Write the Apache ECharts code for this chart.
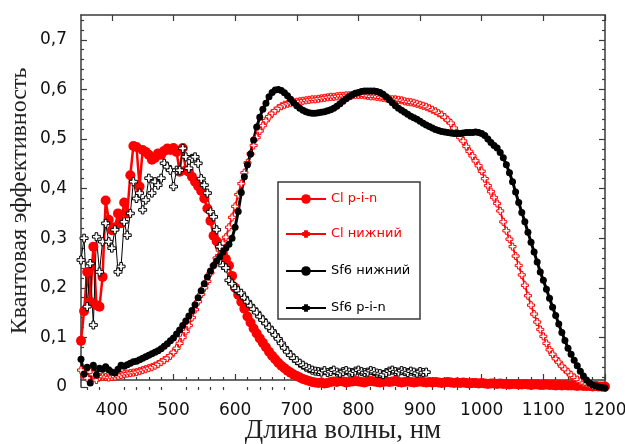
<!DOCTYPE html>
<html>
<head>
<meta charset="utf-8">
<script src="https://cdn.jsdelivr.net/npm/echarts@6/dist/echarts.min.js"></script>
<style>
  html, body { margin: 0; padding: 0; background: #fff; }
  #chart { width: 625px; height: 444px; }
</style>
</head>
<body>
<div id="chart"></div>
<script>
// Wavelength grid of the measurements, nm
const wavelengths = [
  350, 355, 360, 365, 370, 375, 380, 385, 390, 395,
  400, 405, 410, 415, 420, 425, 430, 435, 440, 445,
  450, 455, 460, 465, 470, 475, 480, 485, 490, 495,
  500, 505, 510, 515, 520, 525, 530, 535, 540, 545,
  550, 555, 560, 565, 570, 575, 580, 585, 590, 595,
  600, 605, 610, 615, 620, 625, 630, 635, 640, 645,
  650, 655, 660, 665, 670, 675, 680, 685, 690, 695,
  700, 705, 710, 715, 720, 725, 730, 735, 740, 745,
  750, 755, 760, 765, 770, 775, 780, 785, 790, 795,
  800, 805, 810, 815, 820, 825, 830, 835, 840, 845,
  850, 855, 860, 865, 870, 875, 880, 885, 890, 895,
  900, 905, 910, 915, 920, 925, 930, 935, 940, 945,
  950, 955, 960, 965, 970, 975, 980, 985, 990, 995,
  1000, 1005, 1010, 1015, 1020, 1025, 1030, 1035, 1040, 1045,
  1050, 1055, 1060, 1065, 1070, 1075, 1080, 1085, 1090, 1095,
  1100, 1105, 1110, 1115, 1120, 1125, 1130, 1135, 1140, 1145,
  1150, 1155, 1160, 1165, 1170, 1175, 1180, 1185, 1190, 1195,
  1200
];

// Quantum efficiency, Cl p-i-n structure
const clPin = [
  0.093, 0.153, 0.232, 0.172, 0.283, 0.165, 0.162, 0.222, 0.376, 0.337,
  0.316, 0.322, 0.350, 0.330, 0.372, 0.350, 0.427, 0.486, 0.484, 0.404,
  0.478, 0.474, 0.468, 0.458, 0.462, 0.471, 0.468, 0.476, 0.481, 0.478,
  0.482, 0.474, 0.434, 0.482, 0.437, 0.434, 0.424, 0.414, 0.405, 0.395,
  0.380, 0.360, 0.335, 0.305, 0.294, 0.284, 0.270, 0.258, 0.245, 0.224,
  0.200, 0.186, 0.172, 0.158, 0.142, 0.130, 0.118, 0.108, 0.098, 0.089,
  0.080, 0.071, 0.063, 0.056, 0.049, 0.043, 0.038, 0.033, 0.029, 0.025,
  0.022, 0.019, 0.016, 0.014, 0.012, 0.010, 0.009, 0.008, 0.009, 0.007,
  0.008, 0.010, 0.011, 0.010, 0.012, 0.011, 0.009, 0.010, 0.011, 0.012,
  0.011, 0.010, 0.009, 0.011, 0.012, 0.011, 0.010, 0.009, 0.010, 0.011,
  0.010, 0.011, 0.012, 0.010, 0.009, 0.010, 0.011, 0.010, 0.009, 0.010,
  0.011, 0.010, 0.009, 0.010, 0.009, 0.010, 0.009, 0.008, 0.009, 0.010,
  0.009, 0.008, 0.009, 0.008, 0.009, 0.008, 0.007, 0.008, 0.008, 0.007,
  0.008, 0.007, 0.006, 0.007, 0.007, 0.006, 0.007, 0.006, 0.006, 0.005,
  0.006, 0.006, 0.005, 0.005, 0.006, 0.005, 0.004, 0.005, 0.005, 0.004,
  0.004, 0.005, 0.004, 0.004, 0.003, 0.004, 0.003, 0.004, 0.003, 0.003,
  0.003, 0.002, 0.003, 0.002, 0.002, 0.002, 0.001, 0.002, 0.001, 0.001,
  0.001
];

// Quantum efficiency, Cl lower cell
const clLower = [
  0.034, 0.022, 0.018, 0.030, 0.025, 0.014, 0.020, 0.021, 0.020, 0.019,
  0.020, 0.021, 0.022, 0.024, 0.026, 0.027, 0.028, 0.029, 0.030, 0.032,
  0.034, 0.036, 0.038, 0.040, 0.043, 0.046, 0.050, 0.054, 0.058, 0.063,
  0.070, 0.078, 0.088, 0.100, 0.112, 0.124, 0.140, 0.156, 0.172, 0.187,
  0.200, 0.213, 0.230, 0.245, 0.260, 0.276, 0.290, 0.302, 0.322, 0.342,
  0.364, 0.388, 0.410, 0.432, 0.452, 0.470, 0.487, 0.503, 0.516, 0.527,
  0.537, 0.545, 0.552, 0.557, 0.562, 0.566, 0.569, 0.571, 0.573, 0.574,
  0.575, 0.576, 0.577, 0.578, 0.579, 0.580, 0.580, 0.581, 0.582, 0.583,
  0.584, 0.585, 0.585, 0.586, 0.587, 0.587, 0.588, 0.588, 0.588, 0.589,
  0.589, 0.589, 0.588, 0.587, 0.586, 0.586, 0.585, 0.584, 0.583, 0.582,
  0.581, 0.580, 0.580, 0.579, 0.578, 0.576, 0.575, 0.574, 0.573, 0.571,
  0.569, 0.567, 0.565, 0.562, 0.559, 0.556, 0.552, 0.549, 0.544, 0.538,
  0.532, 0.522, 0.512, 0.503, 0.496, 0.485, 0.475, 0.466, 0.456, 0.446,
  0.435, 0.420, 0.406, 0.394, 0.382, 0.370, 0.355, 0.333, 0.315, 0.298,
  0.283, 0.264, 0.245, 0.226, 0.205, 0.184, 0.165, 0.147, 0.131, 0.116,
  0.102, 0.088, 0.075, 0.066, 0.057, 0.050, 0.042, 0.036, 0.030, 0.024,
  0.019, 0.015, 0.011, 0.008, 0.006, 0.004, 0.002, 0.001, 0.000, -0.001,
  -0.002
];

// Quantum efficiency, Sf6 lower cell
const sf6Lower = [
  0.056, 0.026, 0.040, 0.008, 0.044, 0.024, 0.038, 0.036, 0.041, 0.035,
  0.030, 0.028, 0.036, 0.044, 0.042, 0.045, 0.048, 0.051, 0.052, 0.055,
  0.058, 0.061, 0.064, 0.067, 0.070, 0.073, 0.077, 0.082, 0.087, 0.093,
  0.099, 0.107, 0.115, 0.124, 0.133, 0.143, 0.154, 0.166, 0.180, 0.194,
  0.208, 0.222, 0.234, 0.245, 0.254, 0.262, 0.272, 0.280, 0.288, 0.300,
  0.322, 0.354, 0.392, 0.424, 0.448, 0.470, 0.498, 0.524, 0.544, 0.560,
  0.572, 0.585, 0.594, 0.599, 0.600, 0.598, 0.593, 0.587, 0.580, 0.573,
  0.567, 0.562, 0.558, 0.555, 0.553, 0.552, 0.552, 0.553, 0.554, 0.555,
  0.557, 0.559, 0.562, 0.566, 0.571, 0.576, 0.581, 0.585, 0.589, 0.592,
  0.594, 0.596, 0.597, 0.597, 0.597, 0.597, 0.596, 0.594, 0.590, 0.585,
  0.579, 0.573, 0.567, 0.562, 0.558, 0.554, 0.550, 0.546, 0.543, 0.540,
  0.536, 0.532, 0.528, 0.525, 0.522, 0.519, 0.517, 0.515, 0.514, 0.513,
  0.512, 0.511, 0.511, 0.511, 0.512, 0.513, 0.513, 0.513, 0.514, 0.513,
  0.511, 0.507, 0.500, 0.493, 0.487, 0.482, 0.473, 0.462, 0.448, 0.432,
  0.414, 0.393, 0.372, 0.352, 0.333, 0.312, 0.292, 0.272, 0.252, 0.232,
  0.215, 0.197, 0.179, 0.161, 0.144, 0.127, 0.110, 0.094, 0.078, 0.066,
  0.054, 0.043, 0.032, 0.022, 0.014, 0.008, 0.004, 0.002, 0.000, -0.001,
  -0.002
];

// Quantum efficiency, Sf6 p-i-n structure (measured up to 910 nm)
const sf6Pin = [
  0.256, 0.300, 0.162, 0.249, 0.125, 0.303, 0.232, 0.293, 0.330, 0.293,
  0.280, 0.317, 0.232, 0.243, 0.333, 0.306, 0.350, 0.414, 0.380, 0.391,
  0.357, 0.377, 0.421, 0.391, 0.414, 0.407, 0.421, 0.451, 0.444, 0.437,
  0.404, 0.437, 0.437, 0.481, 0.464, 0.441, 0.461, 0.464, 0.451, 0.420,
  0.407, 0.391, 0.353, 0.343, 0.317, 0.283, 0.245, 0.240, 0.215, 0.208,
  0.199, 0.194, 0.189, 0.180, 0.172, 0.164, 0.157, 0.150, 0.142, 0.135,
  0.128, 0.120, 0.113, 0.105, 0.097, 0.088, 0.079, 0.071, 0.064, 0.058,
  0.053, 0.048, 0.044, 0.040, 0.037, 0.034, 0.032, 0.031, 0.030, 0.033,
  0.029, 0.031, 0.034, 0.030, 0.028, 0.031, 0.033, 0.030, 0.029, 0.032,
  0.034, 0.031, 0.029, 0.030, 0.033, 0.031, 0.028, 0.027, 0.025, 0.029,
  0.032, 0.034, 0.031, 0.030, 0.033, 0.031, 0.029, 0.032, 0.030, 0.028,
  0.031, 0.029, 0.030
];

// Axis tick positions
const xMajorTicks = [400, 500, 600, 700, 800, 900, 1000, 1100, 1200];
const xMinorTicks = [
  360, 380, 420, 440, 460, 480, 520, 540, 560, 580,
  620, 640, 660, 680, 720, 740, 760, 780, 820, 840, 860, 880,
  920, 940, 960, 980, 1020, 1040, 1060, 1080, 1120, 1140, 1160, 1180
];
const yMajorTicks = [0, 0.1, 0.2, 0.3, 0.4, 0.5, 0.6, 0.7];
const yMinorTicks = [
  0.02, 0.04, 0.06, 0.08, 0.12, 0.14, 0.16, 0.18, 0.22, 0.24, 0.26, 0.28,
  0.32, 0.34, 0.36, 0.38, 0.42, 0.44, 0.46, 0.48, 0.52, 0.54, 0.56, 0.58,
  0.62, 0.64, 0.66, 0.68, 0.72, 0.74
];

const seriesNames = ['Cl p-i-n', 'Cl нижний', 'Sf6 нижний', 'Sf6 p-i-n'];

const RED = '#ff0000';
const BLACK = '#000000';
const AXIS = '#3a3a3a';
const PLUS = 'path://M3,0H6V3H9V6H6V9H3V6H0V3H3Z';

function pairs(values) {
  return values.map((v, i) => [wavelengths[i], v]);
}

const tickFont = { fontFamily: 'DejaVu Sans', fontSize: 17, color: '#111' };
const lineAxis = { show: true, onZero: false, lineStyle: { color: AXIS, width: 1.5 } };

function majorTickX(position, labelled) {
  return {
    type: 'value', gridIndex: 0, position: position, min: 350, max: 1200,
    offset: position === 'bottom' ? -7 : 0,
    axisLine: lineAxis,
    axisTick: { show: true, inside: true, length: 6, customValues: xMajorTicks,
                lineStyle: { color: AXIS, width: 1.2 } },
    axisLabel: labelled
      ? Object.assign({ show: true, customValues: xMajorTicks, margin: 22,
                        formatter: v => String(v) }, tickFont)
      : { show: false },
    splitLine: { show: false }
  };
}
function minorTickX(position) {
  return {
    type: 'value', gridIndex: 1, position: position, min: 350, max: 1200,
    offset: position === 'bottom' ? -7 : 0,
    axisLine: { show: false },
    axisTick: { show: true, inside: true, length: 3, customValues: xMinorTicks,
                lineStyle: { color: AXIS, width: 1.2 } },
    axisLabel: { show: false },
    splitLine: { show: false }
  };
}
function majorTickY(position, labelled) {
  return {
    type: 'value', gridIndex: 0, position: position, min: 0, max: 0.75,
    axisLine: lineAxis,
    axisTick: { show: true, inside: true, length: 6, customValues: yMajorTicks,
                lineStyle: { color: AXIS, width: 1.2 } },
    axisLabel: labelled
      ? Object.assign({
          show: true, customValues: yMajorTicks, margin: 14,
          formatter: v => (v === 0 ? '0' : String(v).replace('.', ','))
        }, tickFont)
      : { show: false },
    splitLine: { show: false }
  };
}
function minorTickY(position) {
  return {
    type: 'value', gridIndex: 1, position: position, min: 0, max: 0.75,
    axisLine: { show: false },
    axisTick: { show: true, inside: true, length: 3, customValues: yMinorTicks,
                lineStyle: { color: AXIS, width: 1.2 } },
    axisLabel: { show: false },
    splitLine: { show: false }
  };
}

const xBottom = majorTickX('bottom', true);
xBottom.name = 'Длина волны, нм';
xBottom.nameLocation = 'middle';
xBottom.nameGap = 37;
xBottom.nameMoveOverlap = false;
xBottom.nameTextStyle = { fontFamily: 'Liberation Serif', fontSize: 27, color: '#222' };

const yLeft = majorTickY('left', true);
yLeft.name = 'Квантовая эффективность';
yLeft.nameLocation = 'middle';
yLeft.nameRotate = 90;
yLeft.nameGap = 40;
yLeft.nameMoveOverlap = false;
yLeft.nameTextStyle = {
  fontFamily: 'Liberation Serif', fontSize: 24, color: '#222',
  backgroundColor: '#fff', padding: [0, 2, 9, 2]
};

const legendText = { fontFamily: 'DejaVu Sans', fontSize: 13 };
const gridBox = { left: 81, right: 20, top: 15, bottom: 57, containLabel: false, outerBoundsMode: 'none' };

const option = {
  animation: false,
  backgroundColor: '#fff',
  grid: [Object.assign({}, gridBox), Object.assign({}, gridBox)],
  xAxis: [xBottom, majorTickX('top', false), minorTickX('bottom'), minorTickX('top')],
  yAxis: [yLeft, majorTickY('right', false), minorTickY('left'), minorTickY('right')],
  legend: [
    {
      orient: 'vertical', left: 285, top: 192, padding: 0,
      itemWidth: 40, itemHeight: 12, itemGap: 58, selectedMode: false,
      textStyle: Object.assign({ lineHeight: 14 }, legendText),
      data: [
        { name: seriesNames[0], textStyle: { color: RED } },
        { name: seriesNames[2], textStyle: { color: BLACK } }
      ]
    },
    {
      orient: 'vertical', left: 285, top: 227, padding: 0,
      itemWidth: 40, itemHeight: 7, itemGap: 60, selectedMode: false,
      textStyle: Object.assign({ lineHeight: 14 }, legendText),
      data: [
        { name: seriesNames[1], textStyle: { color: RED } },
        { name: seriesNames[3], textStyle: { color: BLACK } }
      ]
    }
  ],
  graphic: [{
    type: 'rect', z: 3, silent: true,
    shape: { x: 278, y: 182, width: 142, height: 137 },
    style: { fill: '#fff', stroke: AXIS, lineWidth: 1.5 }
  }],
  series: [
    {
      name: seriesNames[0], type: 'line', xAxisIndex: 0, yAxisIndex: 0,
      data: pairs(clPin), clip: false, showAllSymbol: true,
      symbol: 'circle', symbolSize: 10,
      itemStyle: { color: RED },
      lineStyle: { color: RED, width: 2.5 }
    },
    {
      name: seriesNames[1], type: 'line', xAxisIndex: 0, yAxisIndex: 0,
      data: pairs(clLower), clip: false, showAllSymbol: true,
      symbol: PLUS, symbolSize: 7,
      itemStyle: { color: '#fff', borderColor: RED, borderWidth: 1 },
      lineStyle: { color: RED, width: 2 }
    },
    {
      name: seriesNames[2], type: 'line', xAxisIndex: 0, yAxisIndex: 0,
      data: pairs(sf6Lower), clip: false, showAllSymbol: true,
      symbol: 'circle', symbolSize: 7,
      itemStyle: { color: BLACK },
      lineStyle: { color: BLACK, width: 3 }
    },
    {
      name: seriesNames[3], type: 'line', xAxisIndex: 0, yAxisIndex: 0,
      data: pairs(sf6Pin), clip: false, showAllSymbol: true,
      symbol: PLUS, symbolSize: 8,
      itemStyle: { color: '#fff', borderColor: BLACK, borderWidth: 1 },
      lineStyle: { color: BLACK, width: 1 }
    }
  ]
};

const chart = echarts.init(document.getElementById('chart'), null, { renderer: 'canvas' });
chart.setOption(option);
</script>
</body>
</html>
